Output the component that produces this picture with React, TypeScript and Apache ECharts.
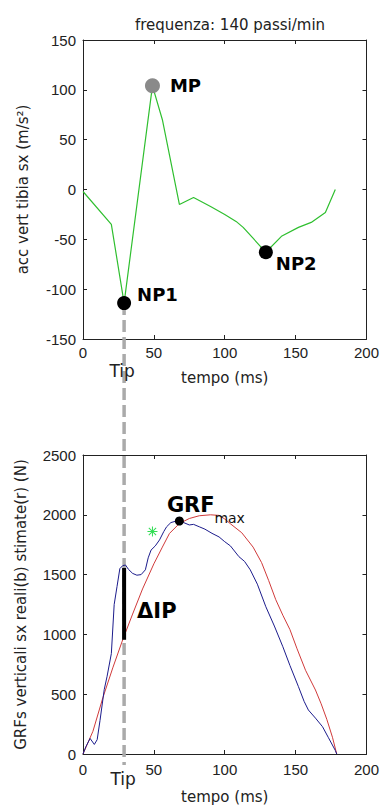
import React, { useEffect, useRef } from "react";
import * as echarts from "echarts";

const TITLE = "frequenza: 140 passi/min";
const X_NAME = "tempo (ms)";
const ACC_NAME = "acc vert tibia sx (m/s²)";
const GRF_NAME = "GRFs verticali sx reali(b) stimate(r) (N)";

// top panel: tibial vertical acceleration (m/s^2)
const ACC_T = [0, 20, 29, 49, 56, 68, 78, 90, 100, 108, 113, 129, 140, 152, 161, 171, 178];
const ACC_V = [-2, -35, -114, 104, 70, -15, -8, -17, -25, -32, -38, -63, -47, -38, -33, -23, 0];
const MP = [49, 104];
const NP1 = [29, -114];
const NP2 = [129, -63];
const TIP = 29;

// bottom panel: measured (blue) and estimated (red) vertical GRF (N)
const BLUE_T = [0, 2, 5, 8, 10, 12, 15, 17, 20, 22, 24, 26, 28, 30, 32, 35, 38, 41, 44, 46, 48, 51, 54, 57, 59, 62, 65, 68, 71, 75, 78, 82, 86, 91, 96, 100, 104, 110, 114, 118, 123, 129, 135, 141, 146, 152, 156, 159, 164, 169, 173, 178, 179];
const BLUE_V = [0, 60, 130, 80, 120, 280, 540, 650, 840, 1250, 1400, 1550, 1575, 1580, 1545, 1510, 1495, 1500, 1540, 1640, 1705, 1740, 1790, 1860, 1900, 1935, 1945, 1950, 1935, 1915, 1920, 1900, 1880, 1845, 1815, 1775, 1740, 1650, 1610, 1540, 1420, 1231, 1070, 897, 740, 563, 440, 368, 300, 228, 140, 30, 0];
const RED_T = [0, 7, 14, 21, 28, 35, 42, 50, 56, 61, 68, 75, 82, 90, 96, 100, 104, 112, 120, 126, 131, 136, 141, 146, 151, 157, 164, 168, 172, 176, 179];
const RED_V = [0, 190, 470, 720, 955, 1170, 1380, 1590, 1730, 1844, 1927, 1969, 1992, 2000, 1995, 1965, 1925, 1850, 1730, 1600, 1450, 1290, 1160, 1040, 880, 700, 535, 420, 290, 140, 0];
const GRF_MAX = [68, 1948];
const STAR = [49, 1860];
const DELTA_IP = [955, 1555];

const zip = (a: number[], b: number[]) => a.map((v, i) => [v, b[i]]);

const TICK_FONT = { fontFamily: "Liberation Sans", fontSize: 15, color: "#222" };
const NAME_FONT = { fontFamily: "DejaVu Sans", fontSize: 15, color: "#222" };
const LINE = { lineStyle: { color: "#222", width: 1 } };
const plain = (v: number) => String(v);

const ASTERISK =
  "path://M4.5,0h1v10h-1z M0,4.5h10v1h-10z M1.7,1L9,8.3L8.3,9L1,1.7Z M8.3,1L9,1.7L1.7,9L1,8.3Z";

export default function App() {
  const ref = useRef<HTMLDivElement>(null);
  useEffect(() => {
    document.body.style.margin = "0";
    const chart = echarts.init(ref.current!, null, { renderer: "svg" });
    const xMain = (grid: number, gap: number, margin: number) => ({
      type: "value",
      gridIndex: grid,
      min: 0,
      max: 200,
      interval: 50,
      position: "bottom",
      name: X_NAME,
      nameLocation: "middle",
      nameGap: gap,
      nameTextStyle: NAME_FONT,
      axisLine: { show: true, onZero: false, ...LINE },
      axisTick: { inside: true, length: 4, ...LINE },
      axisLabel: { ...TICK_FONT, margin, formatter: plain, showMinLabel: true, showMaxLabel: true },
      splitLine: { show: false },
    });
    const xTop = (grid: number) => ({
      type: "value",
      gridIndex: grid,
      min: 0,
      max: 200,
      interval: 50,
      position: "top",
      axisLine: { show: true, onZero: false, ...LINE },
      axisTick: { inside: true, length: 4, ...LINE },
      axisLabel: { show: false },
      splitLine: { show: false },
    });
    const yMain = (grid: number, min: number, max: number, interval: number, name: string, gap: number) => ({
      type: "value",
      gridIndex: grid,
      min,
      max,
      interval,
      position: "left",
      name,
      nameLocation: "middle",
      nameGap: gap,
      nameTextStyle: NAME_FONT,
      axisLine: { show: true, onZero: false, ...LINE },
      axisTick: { inside: true, length: 4, ...LINE },
      axisLabel: { ...TICK_FONT, margin: 7, formatter: plain, showMinLabel: true, showMaxLabel: true },
      splitLine: { show: false },
    });
    const yRight = (grid: number, min: number, max: number, interval: number) => ({
      type: "value",
      gridIndex: grid,
      min,
      max,
      interval,
      position: "right",
      axisLine: { show: true, onZero: false, ...LINE },
      axisTick: { inside: true, length: 4, ...LINE },
      axisLabel: { show: false },
      splitLine: { show: false },
    });
    const boldLabel = (size: number) => ({
      fontFamily: "DejaVu Sans",
      fontWeight: "bold",
      fontSize: size,
      color: "#000",
    });

    chart.setOption({
      animation: false,
      title: {
        text: TITLE,
        left: 225,
        top: 12,
        textAlign: "center",
        textStyle: { fontFamily: "DejaVu Sans", fontSize: 15, fontWeight: "normal", color: "#222" },
      },
      grid: [
        { left: 83, top: 40, width: 285, height: 299 },
        { left: 83, top: 455, width: 285, height: 299 },
      ],
      xAxis: [xMain(0, 31, 6), xTop(0), xMain(1, 35, 8), xTop(1)],
      yAxis: [
        yMain(0, -150, 150, 50, ACC_NAME, 53),
        yRight(0, -150, 150, 50),
        yMain(1, 0, 2500, 500, GRF_NAME, 55),
        yRight(1, 0, 2500, 500),
      ],
      series: [
        {
          type: "line",
          xAxisIndex: 0,
          yAxisIndex: 0,
          data: zip(ACC_T, ACC_V),
          symbol: "none",
          lineStyle: { color: "#2fbf2f", width: 1.2 },
          z: 3,
        },
        {
          type: "scatter",
          xAxisIndex: 0,
          yAxisIndex: 0,
          data: [MP],
          symbolSize: 15,
          itemStyle: { color: "#8a8a8a", opacity: 1 },
          label: { show: true, position: "right", distance: 10, formatter: "MP", ...boldLabel(18) },
          z: 4,
        },
        {
          type: "scatter",
          xAxisIndex: 0,
          yAxisIndex: 0,
          data: [NP1],
          symbolSize: 14,
          itemStyle: { color: "#000", opacity: 1 },
          label: { show: true, position: "right", distance: 6, offset: [0, -9], formatter: "NP1", ...boldLabel(18) },
          z: 4,
        },
        {
          type: "scatter",
          xAxisIndex: 0,
          yAxisIndex: 0,
          data: [NP2],
          symbolSize: 14,
          itemStyle: { color: "#000", opacity: 1 },
          label: { show: true, position: "right", distance: 3, offset: [0, 11], formatter: "NP2", ...boldLabel(18) },
          z: 4,
        },
        {
          type: "line",
          xAxisIndex: 2,
          yAxisIndex: 2,
          data: zip(RED_T, RED_V),
          symbol: "none",
          lineStyle: { color: "#d03a3a", width: 1 },
          z: 3,
        },
        {
          type: "line",
          xAxisIndex: 2,
          yAxisIndex: 2,
          data: zip(BLUE_T, BLUE_V),
          symbol: "none",
          lineStyle: { color: "#1c1c8c", width: 1 },
          z: 3,
        },
        {
          type: "line",
          xAxisIndex: 2,
          yAxisIndex: 2,
          data: [[TIP, DELTA_IP[0]], [TIP, DELTA_IP[1]]],
          symbol: "none",
          lineStyle: { color: "#000", width: 4 },
          z: 4,
        },
        {
          type: "scatter",
          xAxisIndex: 2,
          yAxisIndex: 2,
          data: [[TIP, (DELTA_IP[0] + DELTA_IP[1]) / 2]],
          symbolSize: 0,
          itemStyle: { opacity: 1 },
          label: { show: true, position: "right", distance: 13, offset: [0, 7], formatter: "ΔIP", ...boldLabel(21) },
          z: 4,
        },
        {
          type: "scatter",
          xAxisIndex: 2,
          yAxisIndex: 2,
          data: [GRF_MAX],
          symbolSize: 9,
          itemStyle: { color: "#000", opacity: 1 },
          label: { show: true, position: "right", distance: 0, offset: [-17, -16], formatter: "GRF", ...boldLabel(21) },
          z: 4,
        },
        {
          type: "scatter",
          xAxisIndex: 2,
          yAxisIndex: 2,
          data: [GRF_MAX],
          symbolSize: 0,
          itemStyle: { opacity: 1 },
          label: {
            show: true,
            position: "right",
            distance: 0,
            offset: [35, -3],
            formatter: "max",
            fontFamily: "DejaVu Sans",
            fontSize: 14,
            color: "#111",
          },
          z: 4,
        },
        {
          type: "scatter",
          xAxisIndex: 2,
          yAxisIndex: 2,
          data: [STAR],
          symbol: ASTERISK,
          symbolSize: 10,
          itemStyle: { color: "#33dd55", opacity: 1 },
          z: 4,
        },
      ],
    });

    const top = chart.convertToPixel({ gridIndex: 0 }, NP1) as number[];
    const topAxis = chart.convertToPixel({ gridIndex: 0 }, [TIP, -150]) as number[];
    const botAxis = chart.convertToPixel({ gridIndex: 1 }, [TIP, 0]) as number[];
    const tipFont = { fontFamily: "DejaVu Sans", fontSize: 17, fill: "#222" };
    chart.setOption({
      graphic: [
        {
          type: "line",
          z: 1,
          shape: { x1: top[0], y1: top[1], x2: botAxis[0], y2: botAxis[1] + 11 },
          style: { stroke: "#aaaaaa", lineWidth: 3.5, lineDash: [12, 5] },
        },
        {
          type: "text",
          z: 5,
          x: topAxis[0] - 2,
          y: topAxis[1] + 23,
          style: { text: "Tip", ...tipFont, align: "center", verticalAlign: "top" },
        },
        {
          type: "text",
          z: 5,
          x: botAxis[0] - 1,
          y: botAxis[1] + 16,
          style: { text: "Tip", ...tipFont, align: "center", verticalAlign: "top" },
        },
      ],
    });

    return () => chart.dispose();
  }, []);
  return <div ref={ref} style={{ width: 382, height: 805 }} />;
}
